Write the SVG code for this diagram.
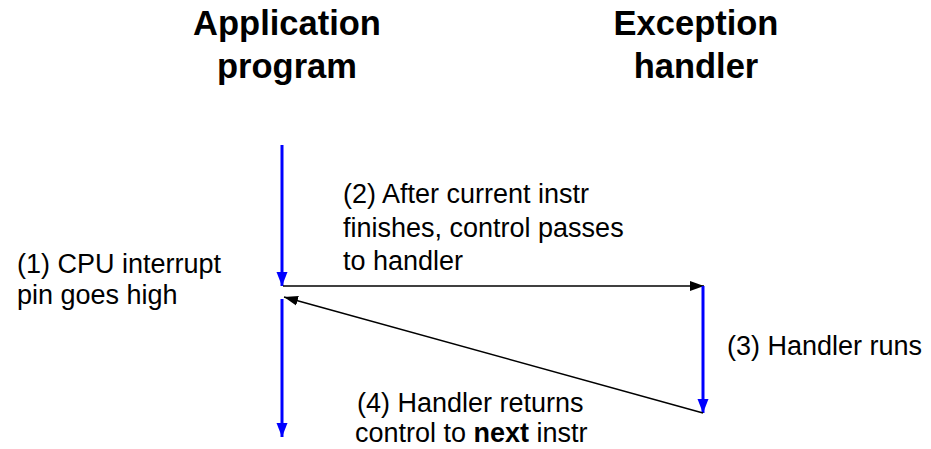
<svg xmlns="http://www.w3.org/2000/svg" width="931" height="449" viewBox="0 0 931 449">
<defs>
<style>
.title{font-family:"Liberation Sans",Arial,sans-serif;font-size:34.5px;font-weight:bold;fill:#000;text-anchor:middle}
.lbl{font-family:"Liberation Sans",Arial,sans-serif;font-size:27px;fill:#000}
.blue{stroke:#0000ff;stroke-width:3;fill:none}
.blk{stroke:#000;stroke-width:1.5;fill:none}
</style>
<marker id="ab" markerUnits="userSpaceOnUse" markerWidth="14" markerHeight="14" viewBox="0 0 14 14" refX="14" refY="7" orient="auto">
<path d="M0,1.5 L14,7 L0,12.5 Z" fill="#0000ff"/>
</marker>
<marker id="ak" markerUnits="userSpaceOnUse" markerWidth="14" markerHeight="12" viewBox="0 0 14 12" refX="14" refY="6" orient="auto">
<path d="M0,1 L14,6 L0,11 Z" fill="#000"/>
</marker>
</defs>
<rect width="931" height="449" fill="#fff"/>
<g id="app-title"><text class="title" x="287" y="35">Application</text><text class="title" x="287" y="78">program</text></g>
<g id="handler-title"><text class="title" x="696" y="35">Exception</text><text class="title" x="696" y="78">handler</text></g>
<g id="label1"><text class="lbl" x="17" y="273">(1) CPU interrupt</text><text class="lbl" x="17" y="304">pin goes high</text></g>
<g id="label2"><text class="lbl" x="343" y="203">(2) After current instr</text><text class="lbl" x="343" y="237">finishes, control passes</text><text class="lbl" x="343" y="270">to handler</text></g>
<g id="label3"><text class="lbl" x="727" y="355">(3) Handler runs</text></g>
<g id="label4"><text class="lbl" x="357" y="412">(4) Handler returns</text><text class="lbl" x="355" y="442">control to <tspan font-weight="bold">next</tspan> instr</text></g>
<g id="connectors">
<line class="blue" x1="282" y1="145" x2="282" y2="286" marker-end="url(#ab)"/>
<line class="blk" x1="283" y1="286" x2="704" y2="286" marker-end="url(#ak)"/>
<line class="blue" x1="703" y1="286" x2="703" y2="413" marker-end="url(#ab)"/>
<line class="blk" x1="703" y1="413" x2="284" y2="297" marker-end="url(#ak)"/>
<line class="blue" x1="282" y1="299" x2="282" y2="437" marker-end="url(#ab)"/>
</g>
</svg>
